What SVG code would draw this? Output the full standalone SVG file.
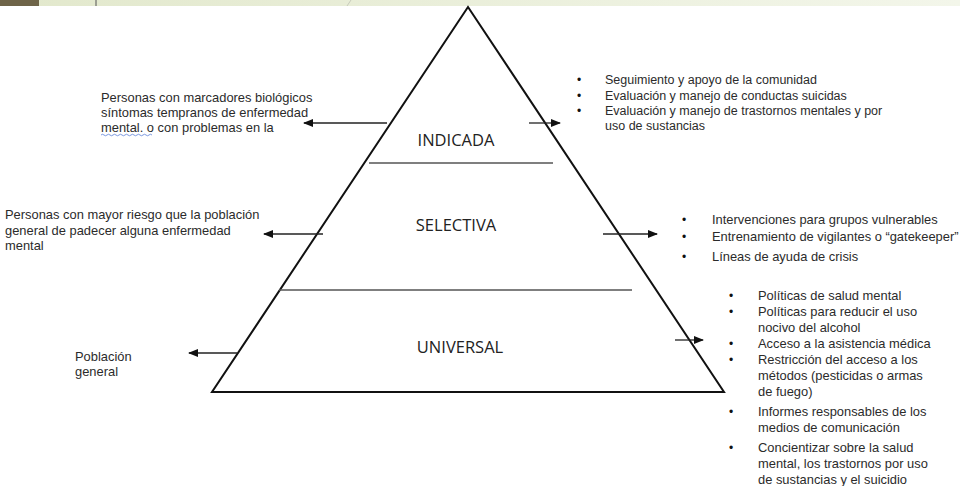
<svg xmlns="http://www.w3.org/2000/svg" width="960" height="486" viewBox="0 0 960 486">
<defs>
<linearGradient id="band" x1="0" y1="0" x2="1" y2="0">
<stop offset="0" stop-color="#e2e8cc"/>
<stop offset="1" stop-color="#f3f6ea"/>
</linearGradient>
<marker id="ah" viewBox="0 0 10 10" refX="9" refY="5" markerWidth="10" markerHeight="10" markerUnits="userSpaceOnUse" orient="auto">
<path d="M0,1 L10,5 L0,9 z" fill="#111"/>
</marker>
<style>
.t{font-family:"Liberation Sans",Arial,sans-serif;font-size:12.9px;fill:#2b2b2b}
.tr{font-family:"Liberation Sans",Arial,sans-serif;font-size:12.5px;fill:#2b2b2b}
.lv{font-family:"Open Sans","Liberation Sans",sans-serif;font-size:16.5px;fill:#222}
.b{font-family:"Liberation Sans",Arial,sans-serif;font-size:12px;fill:#111}
.ar{stroke:#222;stroke-width:1.3;fill:none;marker-end:url(#ah)}
.sep{stroke:#555;stroke-width:1.3}
</style>
</defs>
<rect x="0" y="0" width="960" height="486" fill="#fff"/>
<g id="band-top">
<rect x="0" y="0" width="960" height="6" fill="url(#band)"/>
<rect x="0" y="0" width="39" height="6" fill="#6e6448"/>
<line x1="96" y1="0" x2="96" y2="6" stroke="#555" stroke-width="1"/>
<line x1="347" y1="6" x2="351" y2="0" stroke="#c8cbbb" stroke-width="1"/>
</g>
<g id="pyramid">
<polygon points="468,7 212,392 724,392" fill="none" stroke="#111" stroke-width="2"/>
<line class="sep" x1="369" y1="163" x2="553" y2="163"/>
<line class="sep" x1="279" y1="290" x2="632" y2="290"/>
</g>
<g id="indicada"><text class="lv" x="456" y="146" text-anchor="middle">INDICADA</text></g>
<g id="selectiva"><text class="lv" x="456" y="231" text-anchor="middle">SELECTIVA</text></g>
<g id="universal"><text class="lv" x="460" y="353" text-anchor="middle">UNIVERSAL</text></g>
<g id="connectors">
<line class="ar" x1="387" y1="123" x2="304" y2="123"/>
<line class="ar" x1="529" y1="123" x2="560" y2="123"/>
<line class="ar" x1="323" y1="234" x2="264" y2="234"/>
<line class="ar" x1="603" y1="234" x2="657" y2="234"/>
<line class="ar" x1="237" y1="353" x2="189" y2="353"/>
<line class="ar" x1="675" y1="340" x2="703" y2="340"/>
</g>
<g id="left-indicada">
<text class="t" x="101" y="102">Personas con marcadores biológicos</text>
<text class="t" x="101" y="117">síntomas tempranos de enfermedad</text>
<text class="t" x="101" y="132">mental. o con problemas en la</text>
<path d="M101,135 q1.5,-1.5 3,0 t3,0 t3,0 t3,0 t3,0 t3,0 t3,0 t3,0 t3,0 t3,0 t3,0 t3,0 t3,0 t3,0 t3,0 t3,0 t3,0" fill="none" stroke="#5b7fd6" stroke-width="0.8"/>
</g>
<g id="left-selectiva">
<text class="t" x="5" y="219">Personas con mayor riesgo que la población</text>
<text class="t" x="5" y="235">general de padecer alguna enfermedad</text>
<text class="t" x="5" y="250">mental</text>
</g>
<g id="left-universal">
<text class="t" x="75" y="361">Población</text>
<text class="t" x="75" y="376">general</text>
</g>
<g id="right-indicada">
<text class="b" x="577" y="84">•</text><text class="tr" x="605" y="84">Seguimiento y apoyo de la comunidad</text>
<text class="b" x="577" y="100">•</text><text class="tr" x="605" y="100">Evaluación y manejo de conductas suicidas</text>
<text class="b" x="577" y="115">•</text><text class="tr" x="605" y="115">Evaluación y manejo de trastornos mentales y por</text>
<text class="tr" x="605" y="130">uso de sustancias</text>
</g>
<g id="right-selectiva">
<text class="b" x="682" y="224">•</text><text class="t" x="712" y="224">Intervenciones para grupos vulnerables</text>
<text class="b" x="682" y="241">•</text><text class="t" x="712" y="241">Entrenamiento de vigilantes o “gatekeeper”</text>
<text class="b" x="682" y="261">•</text><text class="t" x="712" y="261">Líneas de ayuda de crisis</text>
</g>
<g id="right-universal">
<text class="b" x="729" y="300">•</text><text class="t" x="758" y="300">Políticas de salud mental</text>
<text class="b" x="729" y="316">•</text><text class="t" x="758" y="316">Políticas para reducir el uso</text>
<text class="t" x="758" y="332">nocivo del alcohol</text>
<text class="b" x="729" y="348">•</text><text class="t" x="758" y="348">Acceso a la asistencia médica</text>
<text class="b" x="729" y="364">•</text><text class="t" x="758" y="364">Restricción del acceso a los</text>
<text class="t" x="758" y="380">métodos (pesticidas o armas</text>
<text class="t" x="758" y="396">de fuego)</text>
<text class="b" x="729" y="416">•</text><text class="t" x="758" y="416">Informes responsables de los</text>
<text class="t" x="758" y="432">medios de comunicación</text>
<text class="b" x="729" y="452">•</text><text class="t" x="758" y="452">Concientizar sobre la salud</text>
<text class="t" x="758" y="468">mental, los trastornos por uso</text>
<text class="t" x="758" y="484">de sustancias y el suicidio</text>
</g>
</svg>
